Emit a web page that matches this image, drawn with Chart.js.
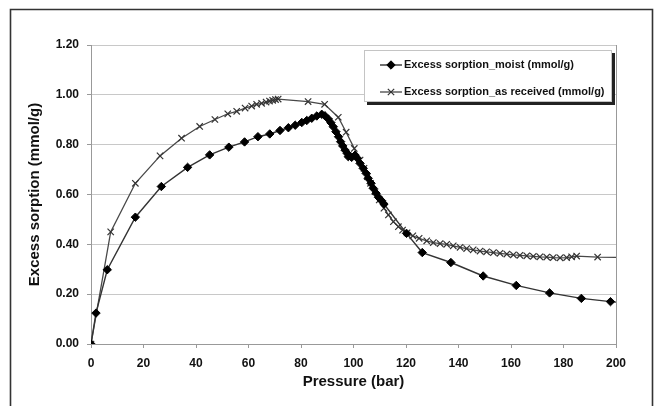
<!DOCTYPE html>
<html>
<head>
<meta charset="utf-8">
<title>Excess sorption</title>
<script src="https://cdn.jsdelivr.net/npm/chart.js@4.4.0/dist/chart.umd.min.js"></script>
<style>
    html, body { margin: 0; padding: 0; background: #fff; }
    #sorptionChart { display: block; }
</style>
</head>
<body>
<canvas id="sorptionChart" width="657" height="406"></canvas>
<script>
// Medições - amostra úmida
const pressureMoist = [0, 1.9, 6.2, 16.9, 26.8, 36.8, 45.2, 52.5, 58.5, 63.6, 68.1, 72.0, 75.2, 77.8, 80.3, 82.2, 84.1, 86.0, 87.9,
    89.1, 90.4, 91.4, 92.3, 93.3, 94.3, 95.1, 95.9, 96.8, 97.6, 98.0, 99.3, 100.6, 101.5, 102.5, 103.7, 104.8, 105.6, 106.7,
    107.5, 108.6, 109.5, 110.7, 111.6, 120.2, 126.2, 137.1, 149.4, 162.0, 174.7, 186.8, 197.9, 209];
const sorptionMoist = [0, 0.124, 0.298, 0.509, 0.632, 0.709, 0.759, 0.790, 0.811, 0.832, 0.843, 0.857, 0.868, 0.878, 0.889, 0.897, 0.906, 0.915, 0.922,
    0.916, 0.903, 0.888, 0.872, 0.852, 0.832, 0.812, 0.795, 0.778, 0.765, 0.752, 0.749, 0.758, 0.745, 0.725, 0.705, 0.685, 0.665, 0.645,
    0.625, 0.605, 0.589, 0.575, 0.562, 0.444, 0.367, 0.327, 0.273, 0.235, 0.205, 0.183, 0.170, 0.159];

// Medições - amostra como recebida
const pressureReceived = [0, 7.5, 16.9, 26.3, 34.5, 41.4, 47.2, 52.1, 55.5, 58.7, 61.2, 63.1, 65.0, 66.7, 68.0, 69.2, 70.3, 71.3,
    82.7, 89.0, 94.2, 97.2, 100.3, 102.5, 104.0, 105.3, 106.5, 108.2, 109.8, 111.6, 113.3, 115.2, 117.1, 118.7, 120.4, 122.6,
    125.0, 127.9, 130.4, 133.0, 135.5, 138.0, 140.6, 143.1, 145.6, 148.2, 150.7, 153.3, 155.8, 158.4, 160.9, 163.4, 166.0,
    168.5, 171.0, 173.6, 176.1, 178.7, 181.2, 183.1, 185.0, 193.0, 210];
const sorptionReceived = [0, 0.450, 0.645, 0.755, 0.826, 0.873, 0.901, 0.924, 0.934, 0.947, 0.955, 0.962, 0.966, 0.971, 0.975, 0.978, 0.981, 0.983,
    0.973, 0.962, 0.910, 0.850, 0.785, 0.738, 0.705, 0.672, 0.645, 0.611, 0.578, 0.545, 0.518, 0.491, 0.471, 0.457, 0.446, 0.434,
    0.424, 0.414, 0.407, 0.403, 0.400, 0.394, 0.388, 0.383, 0.378, 0.373, 0.370, 0.367, 0.364, 0.361, 0.358, 0.356, 0.354,
    0.352, 0.350, 0.349, 0.347, 0.346, 0.347, 0.350, 0.353, 0.349, 0.345];

const seriesLabels = ['Excess sorption_moist (mmol/g)', 'Excess sorption_as received (mmol/g)'];
const xTitle = 'Pressure (bar)';
const yTitle = 'Excess sorption (mmol/g)';

const FONT = "'Liberation Sans', Arial, sans-serif";

function toPoints(xs, ys) {
    return xs.map((x, i) => ({ x: x, y: ys[i] }));
}

// Moldura externa e borda direita da área do gráfico
const framePlugin = {
    id: 'frame',
    beforeDraw(chart) {
        const ctx = chart.ctx;
        ctx.save();
        ctx.fillStyle = '#fff';
        ctx.fillRect(0, 0, chart.width, chart.height);
        ctx.strokeStyle = '#333';
        ctx.lineWidth = 1.6;
        ctx.beginPath();
        ctx.moveTo(10.5, chart.height + 5);
        ctx.lineTo(10.5, 9.5);
        ctx.lineTo(652.5, 9.5);
        ctx.lineTo(652.5, chart.height + 5);
        ctx.stroke();
        ctx.restore();
    },
    beforeDatasetsDraw(chart) {
        const a = chart.chartArea;
        const ctx = chart.ctx;
        ctx.save();
        ctx.strokeStyle = '#999';
        ctx.lineWidth = 1;
        ctx.beginPath();
        ctx.moveTo(Math.round(a.right) + 0.5, a.top);
        ctx.lineTo(Math.round(a.right) + 0.5, a.bottom);
        ctx.stroke();
        ctx.restore();
    }
};

// Legenda em caixa dentro da área do gráfico
const legendBoxPlugin = {
    id: 'legendBox',
    afterDatasetsDraw(chart) {
        const ctx = chart.ctx;
        const x = 364, y = 50, w = 248, h = 52;
        ctx.save();
        ctx.fillStyle = '#222';
        ctx.fillRect(x + 3, y + 3, w, h);
        ctx.fillStyle = '#fff';
        ctx.fillRect(x, y, w, h);
        ctx.strokeStyle = '#c4c4c4';
        ctx.lineWidth = 1;
        ctx.strokeRect(x + 0.5, y + 0.5, w - 1, h - 1);

        chart.data.datasets.forEach(function(ds, i) {
            const rowY = y + 15 + i * 27;
            ctx.strokeStyle = ds.borderColor;
            ctx.lineWidth = ds.borderWidth;
            ctx.beginPath();
            ctx.moveTo(x + 16, rowY);
            ctx.lineTo(x + 38, rowY);
            ctx.stroke();

            ctx.fillStyle = ds.pointBackgroundColor;
            ctx.strokeStyle = ds.pointBorderColor;
            ctx.lineWidth = ds.pointBorderWidth;
            Chart.helpers.drawPoint(ctx, {
                pointStyle: ds.pointStyle,
                radius: ds.pointRadius,
                borderWidth: ds.pointBorderWidth,
                rotation: 0
            }, x + 27, rowY);

            ctx.fillStyle = '#111';
            ctx.font = 'bold 11px ' + FONT;
            ctx.textBaseline = 'middle';
            ctx.textAlign = 'left';
            ctx.fillText(ds.label, x + 40, rowY);
        });
        ctx.restore();
    }
};

new Chart(document.getElementById('sorptionChart'), {
    type: 'line',
    data: {
        datasets: [{
            label: seriesLabels[0],
            data: toPoints(pressureMoist, sorptionMoist),
            borderColor: '#333',
            borderWidth: 1.4,
            pointStyle: 'rectRot',
            pointRadius: 4.2,
            pointBackgroundColor: '#000',
            pointBorderColor: '#000',
            pointBorderWidth: 1
        }, {
            label: seriesLabels[1],
            data: toPoints(pressureReceived, sorptionReceived),
            borderColor: '#484848',
            borderWidth: 1.3,
            pointStyle: 'crossRot',
            pointRadius: 4.5,
            pointBackgroundColor: '#444',
            pointBorderColor: '#333',
            pointBorderWidth: 1.2
        }]
    },
    options: {
        responsive: false,
        animation: false,
        layout: { padding: { top: 45, right: 41, left: 0, bottom: 0 } },
        elements: { line: { tension: 0 } },
        plugins: {
            legend: { display: false },
            tooltip: { enabled: false }
        },
        scales: {
            x: {
                type: 'linear',
                min: 0,
                max: 200,
                afterFit: function(scale) { scale.height = 62; },
                ticks: {
                    stepSize: 20,
                    padding: 8,
                    color: '#111',
                    maxRotation: 0,
                    font: { family: FONT, size: 12, weight: 'bold' }
                },
                grid: { drawOnChartArea: false, tickLength: 4, tickColor: '#999' },
                border: { color: '#999' },
                title: {
                    display: true,
                    text: xTitle,
                    color: '#111',
                    font: { family: FONT, size: 15, weight: 'bold' },
                    padding: { bottom: 15 }
                }
            },
            y: {
                min: 0,
                max: 1.2,
                afterFit: function(scale) { scale.width = 91; },
                ticks: {
                    stepSize: 0.2,
                    padding: 8,
                    color: '#111',
                    font: { family: FONT, size: 12, weight: 'bold' },
                    callback: function(v) { return v.toFixed(2); }
                },
                grid: { color: '#c8c8c8', tickLength: 4, tickColor: '#999' },
                border: { color: '#999' },
                title: {
                    display: true,
                    text: yTitle,
                    color: '#111',
                    font: { family: FONT, size: 15, weight: 'bold' },
                    padding: { top: 26 }
                }
            }
        }
    },
    plugins: [framePlugin, legendBoxPlugin]
});
</script>
</body>
</html>
